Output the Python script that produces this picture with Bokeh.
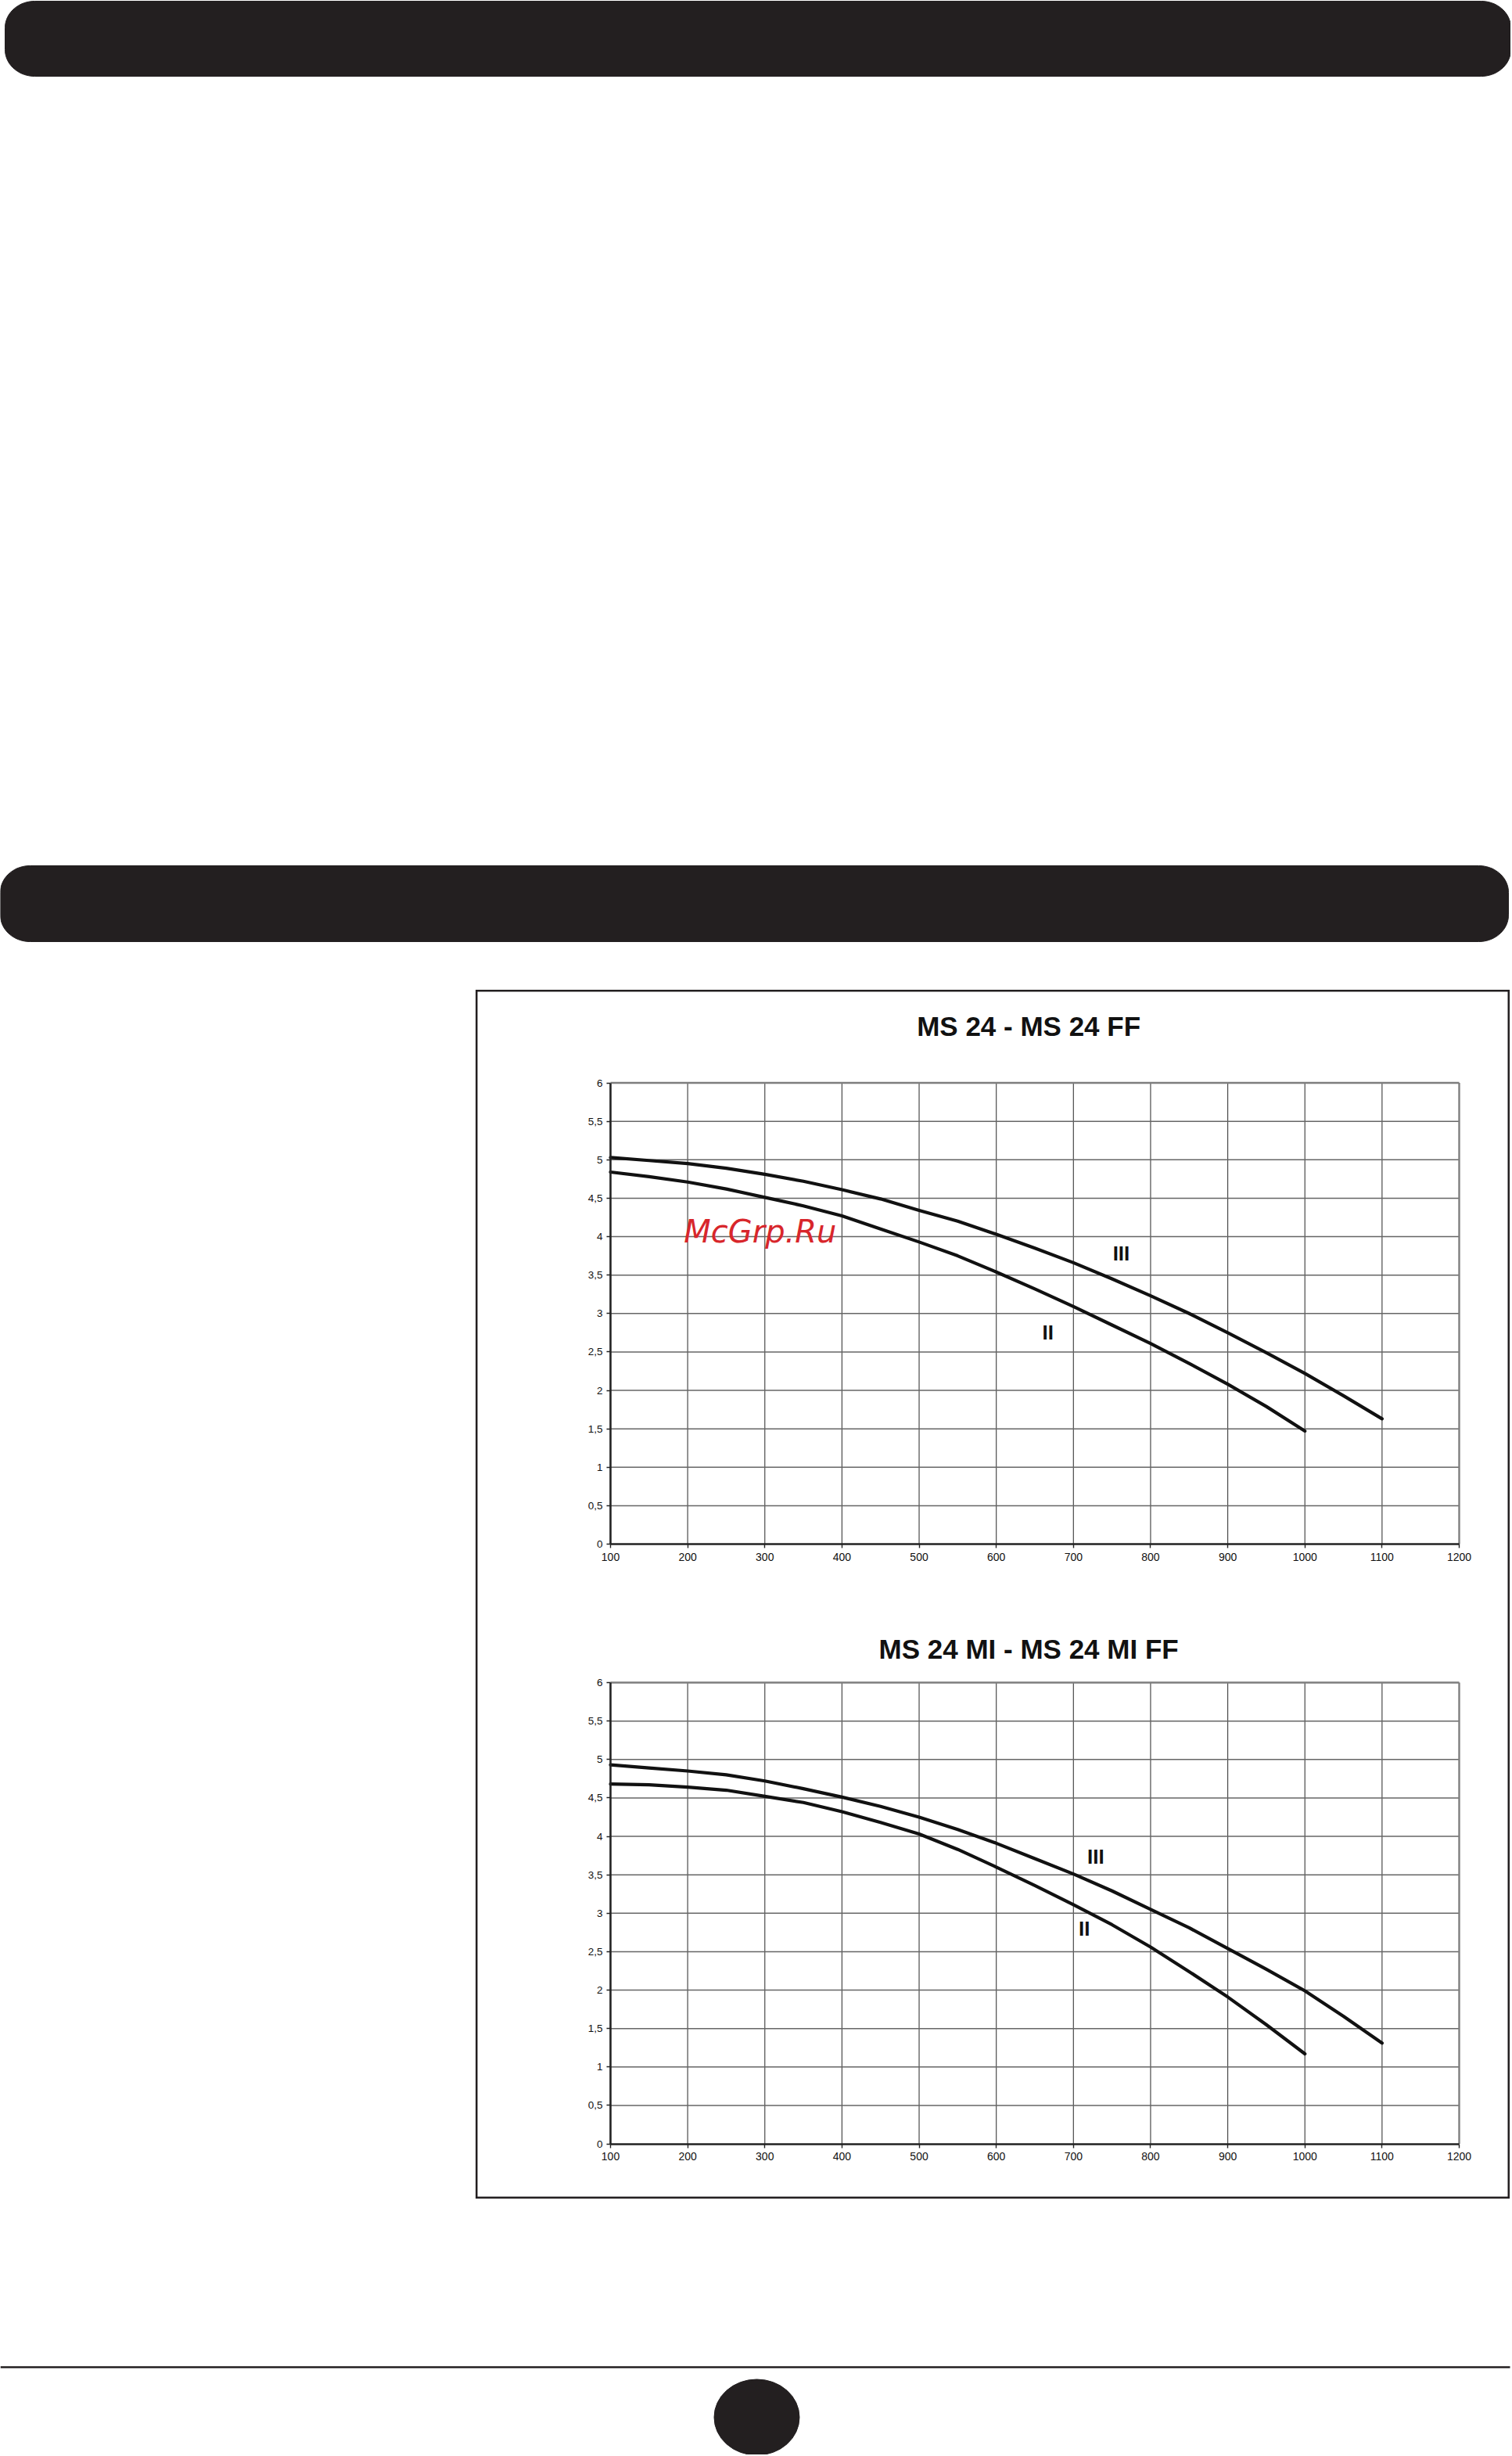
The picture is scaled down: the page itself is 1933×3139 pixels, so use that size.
import numpy as np
from bokeh.plotting import figure
from bokeh.models import Range1d, LinearAxis, FixedTicker, Spacer, Label
from bokeh.layouts import column, row
from bokeh.embed import file_html
from bokeh.resources import INLINE
from bokeh.core.properties import value

# ---------------- data ----------------
flow = [100, 150, 200, 250, 300, 350, 400, 450, 500, 550, 600,
        650, 700, 750, 800, 850, 900, 950, 1000, 1050, 1100]

chart1_title = "MS 24 - MS 24 FF"
chart1_III = [5.03, 4.99, 4.95, 4.89, 4.81, 4.72, 4.61, 4.49, 4.34, 4.20, 4.03,
              3.85, 3.66, 3.45, 3.23, 3.00, 2.75, 2.49, 2.22, 1.93, 1.63]
chart1_II = [4.84, 4.78, 4.71, 4.62, 4.51, 4.40, 4.27, 4.10, 3.93, 3.75, 3.54,
             3.32, 3.09, 2.85, 2.61, 2.35, 2.08, 1.79, 1.47]

chart2_title = "MS 24 MI - MS 24 MI FF"
chart2_III = [4.93, 4.89, 4.85, 4.80, 4.72, 4.62, 4.51, 4.39, 4.25, 4.09, 3.91,
              3.71, 3.51, 3.29, 3.05, 2.81, 2.54, 2.27, 1.99, 1.66, 1.31]
chart2_II = [4.68, 4.67, 4.64, 4.60, 4.52, 4.44, 4.32, 4.18, 4.03, 3.83, 3.60,
             3.36, 3.11, 2.85, 2.56, 2.24, 1.91, 1.55, 1.17]

curve_names = ["III", "II"]
chart1_label_x = [762, 667]
chart1_label_y = [3.78, 2.75]
chart2_label_x = [729, 714]
chart2_label_y = [3.74, 2.80]

x_ticks = [100, 200, 300, 400, 500, 600, 700, 800, 900, 1000, 1100, 1200]
y_ticks = [0, 0.5, 1, 1.5, 2, 2.5, 3, 3.5, 4, 4.5, 5, 5.5, 6]
y_tick_labels = ["0", "0,5", "1", "1,5", "2", "2,5", "3", "3,5", "4", "4,5", "5", "5,5", "6"]

watermark = "McGrp.Ru"

# ---------------- page geometry (px) ----------------
PAGE_W = 1931
TOP_H = 1265           # page y 0 -> 1265
BOX_L, BOX_T, BOX_W, BOX_H = 608, 1265, 1322, 1545
FOOT_H = 327
PL, PR = 780, 1865
C1_TOP, C1_BOT = 1383.5, 1973
C2_TOP, C2_BOT = 2150, 2739.5
DARK = "#231f20"


def nofrills(p):
    p.grid.visible = False
    p.outline_line_color = None
    return p


def rounded_bar(x0, x1, y0, y1, rx, ry, n=24):
    xs, ys = [], []
    for (cx, cy, a0, a1) in [(x1 - rx, y0 + ry, 0, np.pi / 2),
                             (x0 + rx, y0 + ry, np.pi / 2, np.pi),
                             (x0 + rx, y1 - ry, np.pi, 1.5 * np.pi),
                             (x1 - rx, y1 - ry, 1.5 * np.pi, 2 * np.pi)]:
        a = np.linspace(a0, a1, n)
        xs += list(cx + rx * np.cos(a))
        ys += list(cy - ry * np.sin(a))
    return xs, ys


# ---------------- top decoration ----------------
top = figure(width=PAGE_W, height=TOP_H, x_range=Range1d(0, PAGE_W),
             y_range=Range1d(TOP_H, 0), x_axis_location=None, y_axis_location=None,
             toolbar_location=None, output_backend="svg", min_border=0)
nofrills(top)
bx, by = rounded_bar(6, 1931, 1, 97, 38, 34)
top.patch(bx, by, fill_color=DARK, line_color=DARK)
bx, by = rounded_bar(0, 1928, 1106, 1203, 38, 34)
top.patch(bx, by, fill_color=DARK, line_color=DARK)

# ---------------- charts box ----------------
xs_px = (PR - PL) / (x_ticks[-1] - x_ticks[0])
x_start = x_ticks[0] - (PL - BOX_L) / xs_px
x_end = x_ticks[-1] + (BOX_L + BOX_W - PR) / xs_px


def yrange(t, b):
    ys_px = (b - t) / (y_ticks[-1] - y_ticks[0])
    return Range1d(y_ticks[0] - (BOX_T + BOX_H - b) / ys_px,
                   y_ticks[-1] + (t - BOX_T) / ys_px)


box = figure(width=BOX_W, height=BOX_H, x_range=Range1d(x_start, x_end),
             y_range=yrange(C1_TOP, C1_BOT), x_axis_location=None, y_axis_location=None,
             toolbar_location=None, output_backend="svg", min_border=0)
box.grid.visible = False
box.outline_line_color = DARK
box.outline_line_width = 4
box.extra_y_ranges = {"c2": yrange(C2_TOP, C2_BOT)}

charts = [
    ("default", chart1_title, chart1_III, chart1_II, chart1_label_x, chart1_label_y, 6.74),
    ("c2", chart2_title, chart2_III, chart2_II, chart2_label_x, chart2_label_y, 6.44),
]

for rn, title, c_iii, c_ii, lx, ly, ty in charts:
    kw = {"y_range_name": rn}
    inner_x = x_ticks[1:-1]
    inner_y = y_ticks[1:-1]
    box.segment(x0=inner_x, y0=[y_ticks[0]] * len(inner_x), x1=inner_x,
                y1=[y_ticks[-1]] * len(inner_x), line_color="#4a4a4a", line_width=1.2, **kw)
    box.segment(x0=[x_ticks[0]] * len(inner_y), y0=inner_y, x1=[x_ticks[-1]] * len(inner_y),
                y1=inner_y, line_color="#666666", line_width=1.5, **kw)
    # plot-area top and right border
    box.segment(x0=[x_ticks[0], x_ticks[-1]], y0=[y_ticks[-1], y_ticks[0]],
                x1=[x_ticks[-1], x_ticks[-1]], y1=[y_ticks[-1], y_ticks[-1]],
                line_color="#7e7e7e", line_width=2.4, **kw)

    xa = LinearAxis(fixed_location=y_ticks[0], bounds=(x_ticks[0], x_ticks[-1]),
                    ticker=FixedTicker(ticks=x_ticks), **kw)
    ya = LinearAxis(fixed_location=x_ticks[0], bounds=(y_ticks[0], y_ticks[-1]),
                    ticker=FixedTicker(ticks=y_ticks),
                    major_label_overrides=dict(zip(y_ticks, y_tick_labels)), **kw)
    for ax in (xa, ya):
        ax.axis_line_color = "#222222"
        ax.axis_line_width = 2.6
        ax.major_tick_line_color = "#222222"
        ax.major_tick_line_width = 1.4
        ax.major_tick_out = 5
        ax.major_tick_in = 0
        ax.minor_tick_out = 0
        ax.minor_tick_in = 0
        ax.major_label_text_font = "Liberation Sans"
        ax.major_label_text_color = "#111111"
    xa.major_label_text_font_size = "14px"
    xa.major_label_standoff = 6
    ya.major_label_text_font_size = "13.5px"
    ya.major_label_standoff = 5
    box.add_layout(xa, "below")
    box.add_layout(ya, "left")

    box.line(flow[:len(c_iii)], c_iii, line_color="#111111", line_width=4.2,
             line_join="round", line_cap="round", **kw)
    box.line(flow[:len(c_ii)], c_ii, line_color="#111111", line_width=4.2,
             line_join="round", line_cap="round", **kw)

    box.text(x=lx, y=ly, text=curve_names, text_font=value("Liberation Sans"),
             text_font_style="bold", text_font_size="26px", text_align="center",
             text_baseline="middle", text_color="#111111", **kw)

    box.add_layout(Label(x=642, y=ty, text=title, text_font="Liberation Sans",
                         text_font_style="bold", text_font_size="35px", text_align="center",
                         text_baseline="middle", text_color="#111111", **kw))

box.add_layout(Label(x=195, y=4.07, text=watermark, text_font="DejaVu Sans",
                     text_font_style="italic", text_font_size="40px", text_color="#d8262b",
                     text_align="left", text_baseline="alphabetic"))

# ---------------- footer ----------------
foot = figure(width=PAGE_W, height=FOOT_H, x_range=Range1d(0, PAGE_W),
              y_range=Range1d(BOX_T + BOX_H + FOOT_H, BOX_T + BOX_H),
              x_axis_location=None, y_axis_location=None,
              toolbar_location=None, output_backend="svg", min_border=0)
nofrills(foot)
foot.segment(x0=[0], y0=[3025], x1=[1930], y1=[3025], line_color=DARK, line_width=2.6)
foot.ellipse(x=[967], y=[3089], width=[109], height=[97], fill_color=DARK, line_color=DARK)

layout = column(top, row(Spacer(width=BOX_L, height=BOX_H), box), foot)

with open("out.html", "w") as f:
    f.write(file_html(layout, INLINE))
